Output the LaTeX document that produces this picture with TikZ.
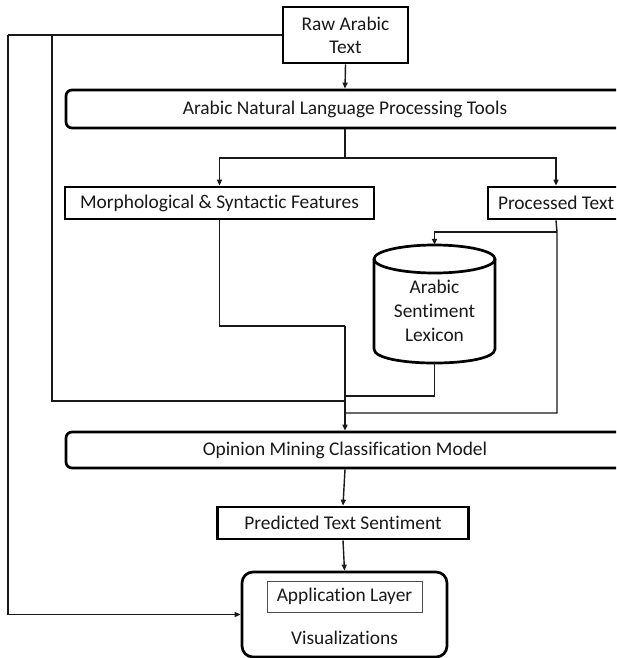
\documentclass[tikz,border=0pt]{standalone}
\usepackage{fontspec}
\setmainfont{Carlito}[Ligatures=NoCommon]
\usetikzlibrary{arrows.meta}
\begin{document}
\begin{tikzpicture}[x=1pt,y=-1pt,
  font=\fontsize{19.4}{23}\selectfont,
  box/.style={draw=black, line width=2.7pt, fill=white, inner sep=0pt, align=center, text=black!90},
  rbox/.style={box, rounded corners=6pt},
  conn/.style={draw=black!90, line width=1.4pt},
  arr/.style={conn, -{Triangle[length=6pt,width=5pt]}}]
\useasboundingbox (0,0) rectangle (616,658);
\clip (0,0) rectangle (616,658);
\fill[white] (0,0) rectangle (616,658);

% nodes
\node[box, minimum width=125pt, minimum height=56pt] (raw) at (345.5,35) {Raw Arabic\\Text};
\node[rbox, minimum width=558pt, minimum height=38pt] (nlp) at (345,109) {Arabic Natural Language Processing Tools};
\node[box, minimum width=309pt, minimum height=32pt] (morph) at (219.5,203) {Morphological \& Syntactic Features};
\node[box, minimum width=136pt, minimum height=32pt] (proc) at (556,203) {Processed Text};
\node[inner sep=0pt, minimum width=121pt, minimum height=118pt] (lex) at (434.5,304) {};
\node[inner sep=0pt, align=center, text=black!90, font=\fontsize{19.4}{24}\selectfont] (lextext) at (434.5,311) {Arabic\\Sentiment\\Lexicon};
\node[rbox, minimum width=558pt, minimum height=36pt] (op) at (345,450) {Opinion Mining Classification Model};
\node[box, minimum width=251pt, minimum height=32pt] (pred) at (343,523) {Predicted Text Sentiment};
\node[box, rounded corners=11pt, minimum width=205pt, minimum height=85pt] (app) at (344.5,614.5) {};
\node[draw=black!70, line width=0.8pt, inner sep=0pt, minimum width=155pt, minimum height=31pt, text=black!90] (appl) at (344.5,596.5) {Application Layer};
\node[text=black!90, inner sep=0pt] (vis) at (344.5,638) {Visualizations};

% cylinder outline for lexicon
\draw[line width=2.7pt] (374,259) -- (374,349)
  .. controls (374,367.7) and (495,367.7) .. (495,349) -- (495,259);
\draw[line width=2.7pt] (434.5,259) ellipse [x radius=60.5, y radius=14];

% coordinates
\coordinate (split) at (345,158);
\coordinate (pbranch) at (557,232);
\coordinate (pdown) at (557,413);
\coordinate (mjoin) at (345,326);
\coordinate (ljoin) at (345,396);
\coordinate (ajoin) at (345,401);
\coordinate (pjoin) at (345,413);
\coordinate (far) at (8,35);
\coordinate (near) at (52,35);
\coordinate (nearbot) at (52,401);

% connectors
\draw[arr] (raw.south) -- (nlp.north);
\draw[conn] (nlp.south) -- (split);
\draw[arr] (split) -| (morph.north);
\draw[arr] (split) -| (proc.north);
\draw[conn] (proc.south) -- (pbranch) -- (pdown) -- (pjoin);
\draw[arr] (pbranch) -| (lex.north);
\draw[conn] (morph.south) |- (mjoin);
\draw[conn] (lex.south) |- (ljoin);
\draw[conn] (raw.west) -- (far);
\draw[conn] (near) -- (nearbot) -- (ajoin);
\draw[arr] (mjoin) -- (op.north);
\draw[arr] (far) |- (app.west);
\draw[arr] (op.south) -- (pred.north);
\draw[arr] (pred.south) -- (app.north);
\end{tikzpicture}
\end{document}
